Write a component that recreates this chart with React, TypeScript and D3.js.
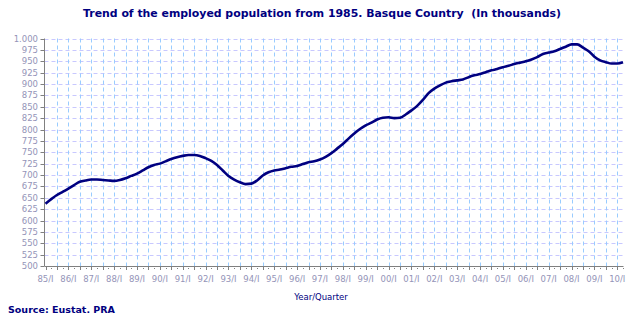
import React from "react";
import * as d3 from "d3";

const W = 643;
const H = 327;

const title = "Trend of the employed population from 1985. Basque Country  (In thousands)";
const source = "Source: Eustat. PRA";
const xTitle = "Year/Quarter";

const yTicks = [500, 525, 550, 575, 600, 625, 650, 675, 700, 725, 750, 775, 800, 825, 850, 875, 900, 925, 950, 975, 1000];

const yearLabels = ["85/I", "86/I", "87/I", "88/I", "89/I", "90/I", "91/I", "92/I", "93/I", "94/I", "95/I", "96/I", "97/I", "98/I", "99/I", "00/I", "01/I", "02/I", "03/I", "04/I", "05/I", "06/I", "07/I", "08/I", "09/I", "10/I"];

// Quarterly employed population (thousands), 85/I .. 10/II
const employed = [
  637, 647, 656, 663, 670, 678, 685, 688, 690, 690,
  689, 688, 687, 689, 693, 698, 703, 710, 717, 722,
  725, 730, 735, 739, 742, 744, 744, 742, 737, 731,
  722, 710, 698, 690, 684, 680, 681, 688, 699, 706,
  710, 712, 715, 718, 720, 724, 728, 730, 734, 740,
  748, 758, 768, 780, 791, 801, 809, 815, 822, 826,
  827, 825, 826, 833, 842, 852, 865, 880, 890, 897,
  903, 906, 908, 910, 915, 919, 922, 926, 930, 933,
  937, 940, 944, 947, 950, 954, 959, 966, 969, 972,
  977, 982, 987, 987, 980, 972, 960, 952, 948, 945,
  945, 948,
];

const fmtY = (v: number) => (v >= 1000 ? d3.format(",")(v).replace(",", ".") : String(v));

export default function App() {
  const left = 45.5;
  const right = 623;
  const top = 38.5;
  const bottom = 266;
  const axisX = 44.5;

  const nQ = employed.length;
  const x = d3.scaleLinear().domain([0, nQ - 1]).range([left, right]);
  const y = d3.scaleLinear().domain([500, 1000]).range([bottom, top]);

  const line = d3
    .line<number>()
    .x((_, i) => x(i))
    .y((d) => y(d))
    .curve(d3.curveMonotoneX);

  const quarters = d3.range(nQ);
  const gridQ = quarters.filter((q) => q % 2 === 0 && q <= 100);

  const labelColor = "#9494b8";
  const navy = "#000080";
  const font = "Verdana, 'DejaVu Sans', sans-serif";

  return (
    <svg width={W} height={H} style={{ position: "absolute", left: 0, top: 0, background: "#fff" }} fontFamily={font}>
      <rect x={0} y={0} width={W} height={H} fill="#fff" />
      <text x={322} y={17} textAnchor="middle" fontSize={10.9} fontWeight="bold" fill={navy} style={{ whiteSpace: "pre" }}>
        {title}
      </text>

      {/* horizontal grid */}
      {yTicks.filter((t) => t > 500).map((t) => (
        <line key={"h" + t} x1={axisX} x2={right} y1={Math.round(y(t)) + 0.5} y2={Math.round(y(t)) + 0.5}
          stroke="#c8c8ff" strokeWidth={1} strokeDasharray="4,3" />
      ))}
      {/* vertical grid */}
      {gridQ.filter((q) => q > 0).map((q) => (
        <line key={"v" + q} x1={Math.round(x(q)) + 0.5} x2={Math.round(x(q)) + 0.5} y1={top} y2={bottom}
          stroke="#99ccff" strokeWidth={1} strokeDasharray="4,3" />
      ))}

      {/* y axis */}
      <line x1={axisX} x2={axisX} y1={top} y2={bottom} stroke="#808080" strokeWidth={1} />
      {yTicks.map((t) => (
        <g key={"yt" + t}>
          <line x1={axisX - 4} x2={axisX} y1={Math.round(y(t)) + 0.5} y2={Math.round(y(t)) + 0.5} stroke="#808080" />
          <text x={38} y={y(t) + 3} textAnchor="end" fontSize={8.5} fill={labelColor}>
            {fmtY(t)}
          </text>
        </g>
      ))}

      {/* x axis */}
      <line x1={axisX} x2={right + 0.5} y1={bottom + 0.5} y2={bottom + 0.5} stroke="#808080" strokeWidth={1} />
      {quarters.map((q) =>
        q % 2 === 0 ? (
          <line key={"xt" + q} x1={Math.round(x(q)) + 0.5} x2={Math.round(x(q)) + 0.5} y1={bottom} y2={bottom + 4} stroke="#808080" />
        ) : (
          <rect key={"xd" + q} x={Math.round(x(q))} y={bottom + 2} width={1} height={1} fill="#808080" />
        )
      )}
      {yearLabels.map((lab, i) => (
        <text key={lab} x={x(i * 4)} y={bottom + 16} textAnchor="middle" fontSize={8.5} fill={labelColor}>
          {lab}
        </text>
      ))}

      <path d={line(employed) || ""} fill="none" stroke={navy} strokeWidth={2.6} strokeLinejoin="round" />

      <text x={321} y={300} textAnchor="middle" fontSize={8.5} fill={navy}>
        {xTitle}
      </text>
      <text x={8} y={313} fontSize={9.5} fontWeight="bold" fill={navy}>
        {source}
      </text>
    </svg>
  );
}
